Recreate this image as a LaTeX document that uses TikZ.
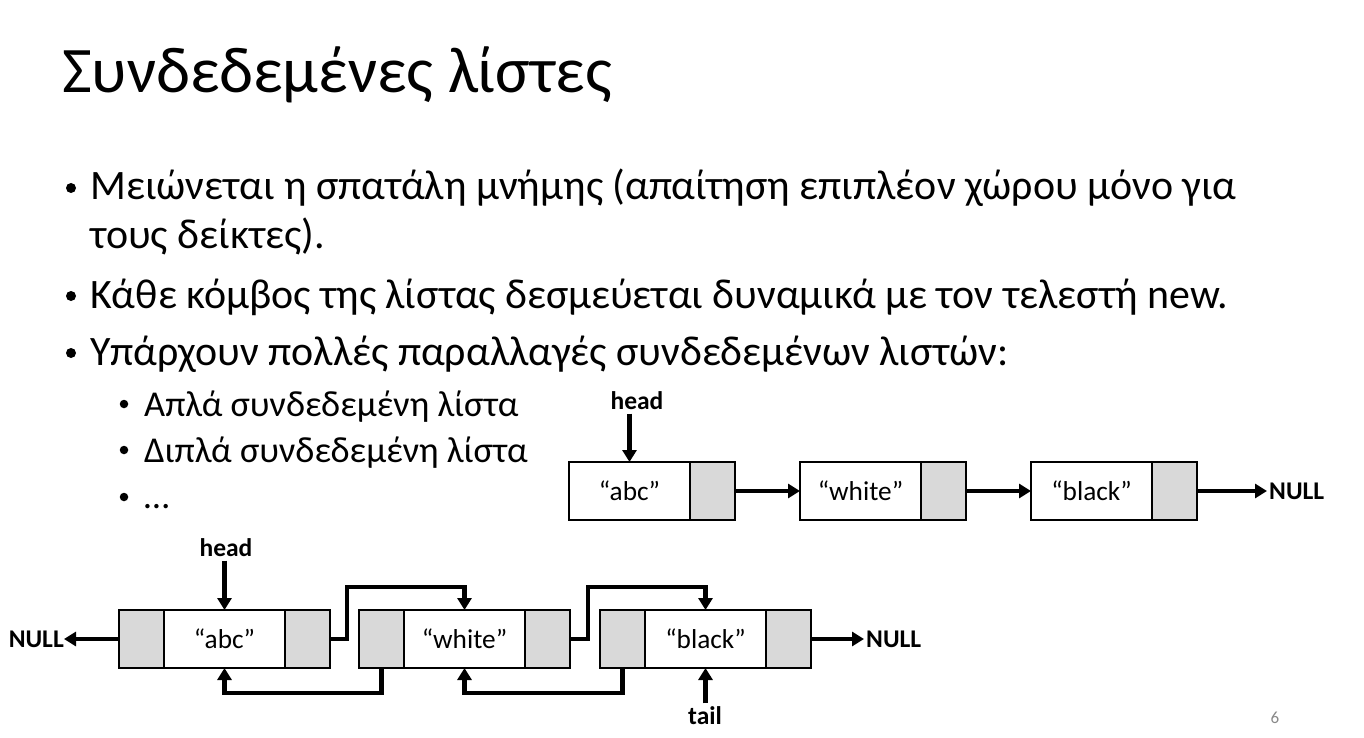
\documentclass[tikz,border=0pt]{standalone}
\usepackage{fontspec}
\setmainfont{Carlito}
\usetikzlibrary{arrows.meta,calc}
\definecolor{cellgray}{HTML}{D9D9D9}
\definecolor{pagegray}{HTML}{898989}
\begin{document}
\begin{tikzpicture}[x=1pt,y=-1pt,
  cell/.style={draw=black, line width=2pt, minimum height=58pt, inner sep=0pt, outer sep=0pt},
  datacell/.style={cell, minimum width=121pt, font=\fontsize{27.3}{32}\selectfont},
  ptrcell/.style={cell, minimum width=45pt, fill=cellgray},
  link/.style={line width=4.2pt, line join=miter, -{Triangle[length=12pt,width=14pt]}},
  lbl/.style={font=\bfseries\fontsize{25.5}{30}\selectfont},
  body/.style={anchor=base west, inner sep=0pt, font=\fontsize{41.9}{50}\selectfont},
  sub/.style={anchor=base west, inner sep=0pt, font=\fontsize{36.4}{44}\selectfont},
  dot/.style={circle, fill=black, inner sep=0pt, minimum size=#1}
]
\useasboundingbox (0,0) rectangle (1364,738);
\fill[white] (0,0) rectangle (1364,738);

% title
\node[anchor=base west, inner sep=0pt, font=\fontsize{65}{72}\selectfont] (title) at (62,93) {Συνδεδεμένες λίστες};

% bullets
\node[dot=10pt] (m1) at (71,188) {};
\node[body] (t1) at (90,200) {Μειώνεται η σπατάλη μνήμης (απαίτηση επιπλέον χώρου μόνο για};
\node[body] (t1b) at (90,248) {τους δείκτες).};
\node[dot=10pt] (m2) at (71,296) {};
\node[body] (t2) at (90,308) {Κάθε κόμβος της λίστας δεσμεύεται δυναμικά με τον τελεστή new.};
\node[dot=10pt] (m3) at (71,353) {};
\node[body] (t3) at (90,365) {Υπάρχουν πολλές παραλλαγές συνδεδεμένων λιστών:};
\node[dot=8.5pt] (s1m) at (124,404) {};
\node[sub] (s1) at (144,416) {Απλά συνδεδεμένη λίστα};
\node[dot=8.5pt] (s2m) at (124,450) {};
\node[sub] (s2) at (144,462) {Διπλά συνδεδεμένη λίστα};
\node[dot=8.5pt] (s3m) at (124,497) {};
\node[sub] (s3) at (144,508) {…};

% singly linked list
\node[datacell, anchor=north west] (a1) at (569,462) {“abc”};
\node[ptrcell, anchor=west] (a1p) at (a1.east) {};
\node[datacell, anchor=north west] (a2) at (800,462) {“white”};
\node[ptrcell, anchor=west] (a2p) at (a2.east) {};
\node[datacell, anchor=north west] (a3) at (1031,462) {“black”};
\node[ptrcell, anchor=west] (a3p) at (a3.east) {};
\node[lbl] (headA) at (637,401) {head};
\node[lbl, anchor=west, inner sep=2pt] (nullA) at (1267,491) {NULL};
\draw[link] (headA.south -| a1.north) -- (a1.north);
\draw[link] (a1p.east) -- (a2.west);
\draw[link] (a2p.east) -- (a3.west);
\draw[link] (a3p.east) -- (nullA.west);

% doubly linked list
\node[ptrcell, anchor=north west] (b1l) at (119,610) {};
\node[datacell, anchor=west] (b1) at (b1l.east) {“abc”};
\node[ptrcell, anchor=west] (b1r) at (b1.east) {};
\node[ptrcell, anchor=north west] (b2l) at (359,610) {};
\node[datacell, anchor=west] (b2) at (b2l.east) {“white”};
\node[ptrcell, anchor=west] (b2r) at (b2.east) {};
\node[ptrcell, anchor=north west] (b3l) at (600,610) {};
\node[datacell, anchor=west] (b3) at (b3l.east) {“black”};
\node[ptrcell, anchor=west] (b3r) at (b3.east) {};

\node[lbl] (headB) at (226,548) {head};
\node[lbl] (tailB) at (705,716) {tail};
\node[lbl, anchor=east, inner sep=0pt] (nullL) at (64,639) {NULL};
\node[lbl, anchor=west, inner sep=2pt] (nullR) at (864,639) {NULL};

\draw[link] (headB.south -| b1.north) -- (b1.north);
\draw[link] (tailB.north -| b3.south) -- (b3.south);
\draw[link] (b1l.west) -- (nullL.east);
\draw[link] (b3r.east) -- (nullR.west);
\draw[link] (b1r.east) -- ++(17,0) -- ++(0,-52) -| (b2.north);
\draw[link] (b2r.east) -- ++(18,0) -- ++(0,-52) -| (b3.north);
\draw[link] (b2l.south) -- ++(0,25) -| (b1.south);
\draw[link] (b3l.south) -- ++(0,25) -| (b2.south);

% page number
\node[font=\fontsize{17}{20}\selectfont, text=pagegray] (pg) at (1275,718) {6};
\end{tikzpicture}
\end{document}
